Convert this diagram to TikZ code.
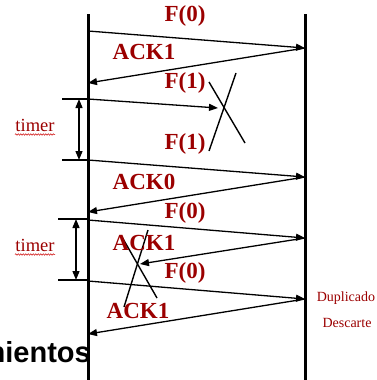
\documentclass[tikz,border=0pt]{standalone}
\usepackage{fontspec}
\setmainfont{Liberation Serif}
\newfontfamily\headfont{Liberation Sans}
\usetikzlibrary{arrows.meta,decorations.pathmorphing}
\definecolor{framered}{RGB}{155,0,0}

\tikzset{
  msg/.style={line width=1.3pt, -{Triangle[length=9pt,width=7pt]}},
  lost/.style={line width=1.4pt},
  lbl/.style={text=framered, inner sep=0pt, font=\bfseries\fontsize{23}{23}\selectfont},
  note/.style={text=framered, inner sep=0pt, font=\fontsize{14}{14}\selectfont},
}

\begin{document}
\begin{tikzpicture}[x=1pt,y=-1pt]
    \clip (0,0) rectangle (377,380);

    % Sender and receiver time lines
    \coordinate (S0) at (88,14);
    \coordinate (S1) at (88,380);
    \coordinate (R0) at (305,14);
    \coordinate (R1) at (305,380);
    \draw[line width=3pt] (S0) -- (S1);
    \draw[line width=3pt] (R0) -- (R1);

    % Events on the sender side
    \coordinate (a1) at (88,31);
    \coordinate (a2) at (88,83);
    \coordinate (a3) at (88,99);
    \coordinate (a4) at (88,160);
    \coordinate (a5) at (88,212);
    \coordinate (a6) at (88,220);
    \coordinate (a7) at (88,281);
    \coordinate (a8) at (88,334);

    % Events on the receiver side
    \coordinate (b1) at (305,48);
    \coordinate (b2) at (305,177);
    \coordinate (b3) at (305,238);
    \coordinate (b4) at (305,299);

    % Where the frames get lost
    \coordinate (f1) at (218,108);
    \coordinate (k1) at (140,264);

    % Frames and acknowledgements
    \draw[msg] (a1) -- (b1);
    \draw[msg] (b1) -- (a2);
    \draw[msg] (a3) -- (f1);
    \draw[msg] (a4) -- (b2);
    \draw[msg] (b2) -- (a5);
    \draw[msg] (a6) -- (b3);
    \draw[msg] (b3) -- (k1);
    \draw[msg] (a7) -- (b4);
    \draw[msg] (b4) -- (a8);

    % Crosses for the lost frames
    \draw[lost] (209,82) -- (245,143);
    \draw[lost] (236,73) -- (209,151);
    \draw[lost] (122,237) -- (157,298);
    \draw[lost] (148,230) -- (124,307);

    % Labels
    \node[lbl] (l1) at (185,16) {F(0)};
    \node[lbl] (l2) at (144,52) {ACK1};
    \node[lbl] (l3) at (185,83) {F(1)};
    \node[lbl] (l4) at (185,144) {F(1)};
    \node[lbl] (l5) at (144,182) {ACK0};
    \node[lbl] (l6) at (185,213) {F(0)};
    \node[lbl] (l7) at (144,243) {ACK1};
    \node[lbl] (l8) at (185,273) {F(0)};
    \node[lbl] (l9) at (138,311) {ACK1};

    % Timers
    \coordinate (t1) at (62,99);
    \coordinate (t2) at (62,160);
    \coordinate (t3) at (58,219);
    \coordinate (t4) at (58,280);
    \draw[line width=1.3pt] (t1) -- (a3);
    \draw[line width=1.3pt] (t2) -- (a4);
    \draw[line width=1.3pt] (t3) -- (88,219);
    \draw[line width=1.3pt] (t4) -- (88,280);
    \draw[line width=1.3pt, {Triangle[length=9pt,width=7pt]}-{Triangle[length=9pt,width=7pt]}] (79,99) -- (79,160);
    \draw[line width=1.3pt, {Triangle[length=9pt,width=7pt]}-{Triangle[length=9pt,width=7pt]}] (76,219) -- (76,280);

    \node[note, font=\fontsize{18.5}{18.5}\selectfont] (tm1) at (35,125) {timer};
    \node[note, font=\fontsize{18.5}{18.5}\selectfont] (tm2) at (35,245) {timer};
    \draw[red!80!black, line width=0.5pt, decorate,
          decoration={snake, amplitude=0.7pt, segment length=2.5pt}] (15,134.5) -- (55,134.5);
    \draw[red!80!black, line width=0.5pt, decorate,
          decoration={snake, amplitude=0.7pt, segment length=2.5pt}] (15,254.5) -- (55,254.5);

    \node[note] (dup) at (346,298) {Duplicado};
    \node[note] (desc) at (347,323) {Descarte};

    % Cut-off heading at the bottom
    \node[anchor=base east, inner sep=0pt, font=\headfont\bfseries\fontsize{29}{29}\selectfont] (head) at (91,362) {mientos};
\end{tikzpicture}
\end{document}
